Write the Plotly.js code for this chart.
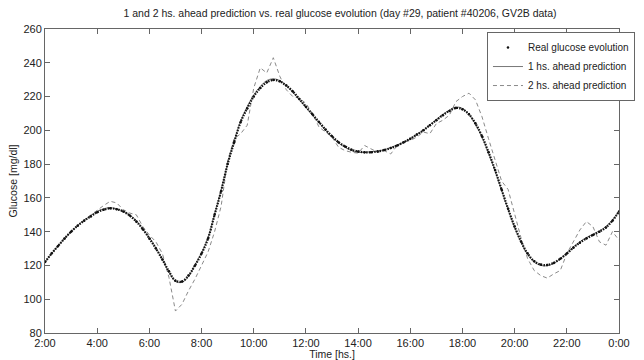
<!DOCTYPE html>
<html>
<head>
<meta charset="utf-8">
<script src="https://cdn.plot.ly/plotly-3.0.1.min.js"></script>
<style>html,body{margin:0;padding:0;background:#fff;}#chart{width:644px;height:360px;}</style>
</head>
<body>
<div id="chart"></div>
<script>
// Time in hours, 15-minute steps from 2:00 to 24:00
const timeHours = [];
for (let i = 0; i <= 88; i++) timeHours.push(2 + i * 0.25);

const realGlucose = [
  122, 127, 131.5, 136, 140, 143.5, 146.5, 149, 151.5, 153, 153.8, 153.3,
  152, 149.5, 146, 141.5, 136, 130, 123.5, 116.5, 111, 110.5, 114, 120,
  127, 136, 150, 164, 180, 193, 205, 213, 220, 225, 228.5, 229.8,
  229, 226.5, 223, 218.5, 214, 209.5, 205, 200.5, 196.5, 193, 190.5, 188.5,
  187.5, 187, 187, 187.5, 188.3, 189.5, 191, 193, 195, 197.5, 200, 203,
  206, 209, 211.5, 213.2, 212.5, 209.5, 204, 196.5, 187, 176.5, 165, 153.5,
  143, 134, 127, 122.5, 120.5, 120.3, 121.5, 124, 127, 130.5, 133.5, 136,
  138, 140, 142.5, 146.5, 152
];

const pred1h = [
  122, 127, 131.5, 136, 140, 143.8, 146.8, 149.5, 152, 153.6, 154.2, 153.5,
  152, 149.8, 146.5, 141.5, 136.5, 130.5, 123.5, 116, 110.5, 110, 113.5, 120.5,
  127.5, 136.5, 150.5, 164.5, 180.5, 193.5, 205.5, 214, 221, 226, 229.5, 230.5,
  229.5, 226.5, 222.5, 218, 213.5, 209, 204.5, 200, 196, 192.5, 190, 188,
  187, 187, 187.3, 187.8, 188.5, 189.8, 191.3, 193, 195, 197.5, 200, 203.2,
  206.5, 209.5, 212, 213.8, 213, 209.5, 203.5, 196, 186.5, 176, 164.5, 153,
  142.5, 133.5, 126.5, 122, 120, 119.8, 121.2, 124, 127.5, 131, 134, 136.5,
  138.5, 140.5, 143, 147, 152
];

const pred2h = [
  122, 127, 131.5, 136, 140, 143.5, 147, 150, 152.5, 155.5, 158, 157,
  153, 151, 150, 143, 138, 134, 127, 113, 93, 97, 105, 112,
  120, 128, 140, 155, 182, 195, 198, 203, 225, 237, 234, 243,
  232, 224, 220, 219, 216, 210, 202, 199, 196, 190, 188, 187,
  186.5, 191, 189, 187, 188, 186, 191, 193, 194, 196, 199, 198,
  204, 206, 209, 217, 220, 222, 218, 208, 195, 183, 170, 165,
  150, 136, 124, 117, 114, 112.5, 115, 117, 127, 134, 141, 146,
  143, 134, 132, 140, 135
];

const tickHours = [2, 4, 6, 8, 10, 12, 14, 16, 18, 20, 22, 24];
const tickLabels = ['2:00', '4:00', '6:00', '8:00', '10:00', '12:00', '14:00', '16:00', '18:00', '20:00', '22:00', '0:00'];
const yTicks = [80, 100, 120, 140, 160, 180, 200, 220, 240, 260];

const FONT = 'Liberation Sans, Arial, sans-serif';

const traces = [
  {
    x: timeHours, y: pred2h, type: 'scatter', mode: 'lines',
    line: {color: '#8a8a8a', width: 1, dash: '4px,3px'},
    name: '2 hs. ahead prediction', legendrank: 3
  },
  {
    x: timeHours, y: pred1h, type: 'scatter', mode: 'lines',
    line: {color: '#777777', width: 1, shape: 'spline'},
    name: '1 hs. ahead prediction', legendrank: 2
  },
  {
    x: timeHours, y: realGlucose, type: 'scatter', mode: 'lines',
    line: {color: '#111111', width: 2.2, dash: '1.5px,1.2px', shape: 'spline'},
    name: 'Real glucose evolution', showlegend: false
  },
  {
    x: timeHours, y: realGlucose, type: 'scatter', mode: 'markers',
    marker: {color: '#111111', size: 2.5},
    name: 'Real glucose evolution', legendrank: 1
  }
];

const layout = {
  width: 644, height: 360,
  margin: {l: 45, r: 9, t: 29, b: 27},
  paper_bgcolor: '#ffffff', plot_bgcolor: '#ffffff',
  font: {family: FONT, size: 11, color: '#222'},
  title: {
    text: '1 and 2 hs. ahead prediction vs. real glucose evolution (day #29, patient #40206, GV2B data)',
    font: {family: FONT, size: 10.5, color: '#222'},
    x: 0.528, xanchor: 'center', y: 0.963, yanchor: 'middle'
  },
  xaxis: {
    range: [2, 24], tickmode: 'array', tickvals: tickHours, ticktext: tickLabels,
    ticks: 'inside', ticklen: 5, tickcolor: '#666', showgrid: false, zeroline: false,
    showline: true, linecolor: '#666', linewidth: 1, mirror: 'ticks',
    tickfont: {family: FONT, size: 11, color: '#222'},
    title: {text: 'Time [hs.]', font: {family: FONT, size: 10.5, color: '#222'}, standoff: 2}
  },
  yaxis: {
    range: [80, 260], tickmode: 'array', tickvals: yTicks,
    ticks: 'inside', ticklen: 5, tickcolor: '#666', showgrid: false, zeroline: false,
    showline: true, linecolor: '#666', linewidth: 1, mirror: 'ticks',
    tickfont: {family: FONT, size: 11, color: '#222'},
    title: {text: 'Glucose [mg/dl]', font: {family: FONT, size: 10.5, color: '#222'}, standoff: 3}
  },
  showlegend: true,
  legend: {
    x: 0.77, xanchor: 'left', y: 0.99, yanchor: 'top',
    bgcolor: '#ffffff', bordercolor: '#666', borderwidth: 1,
    font: {family: FONT, size: 10, color: '#222'},
    itemwidth: 30, tracegroupgap: 0, traceorder: 'normal'
  }
};

Plotly.newPlot('chart', traces, layout, {displayModeBar: false, staticPlot: true});
</script>
</body>
</html>
